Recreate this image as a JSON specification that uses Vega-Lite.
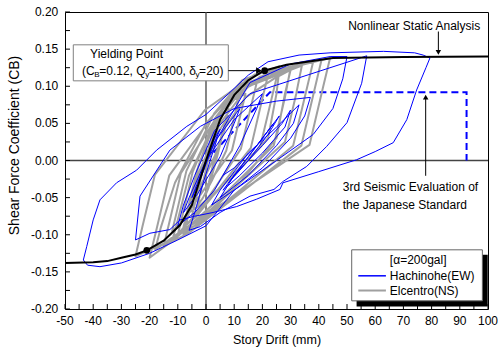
{
"$schema":"https://vega.github.io/schema/vega-lite/v6.json",
"width":423,"height":297,"autosize":"none",
"padding":{"left":65,"top":12,"right":10,"bottom":40},
"background":"white",
"data":{"values":[{}]},
"config":{
 "font":"Liberation Sans",
 "view":{"stroke":"#000","strokeWidth":1},
 "axis":{"grid":false,"domain":false,"ticks":false,"labels":false,"titleFont":"Liberation Sans","titleColor":"#000","titleFontWeight":"normal"},
 "text":{"font":"Liberation Sans","fontSize":12,"color":"#000"}
},
"datasets":{
"xt":[{"v":-50},{"v":-45},{"v":-40},{"v":-35},{"v":-30},{"v":-25},{"v":-20},{"v":-15},{"v":-10},{"v":-5},{"v":0},{"v":5},{"v":10},{"v":15},{"v":20},{"v":25},{"v":30},{"v":35},{"v":40},{"v":45},{"v":50},{"v":55},{"v":60},{"v":65},{"v":70},{"v":75},{"v":80},{"v":85},{"v":90},{"v":95},{"v":100}],
"xl":[{"v":-50,"t":"-50"},{"v":-40,"t":"-40"},{"v":-30,"t":"-30"},{"v":-20,"t":"-20"},{"v":-10,"t":"-10"},{"v":0,"t":"0"},{"v":10,"t":"10"},{"v":20,"t":"20"},{"v":30,"t":"30"},{"v":40,"t":"40"},{"v":50,"t":"50"},{"v":60,"t":"60"},{"v":70,"t":"70"},{"v":80,"t":"80"},{"v":90,"t":"90"},{"v":100,"t":"100"}],
"yt":[{"v":-0.2},{"v":-0.175},{"v":-0.15},{"v":-0.125},{"v":-0.1},{"v":-0.075},{"v":-0.05},{"v":-0.025},{"v":0},{"v":0.025},{"v":0.05},{"v":0.075},{"v":0.1},{"v":0.125},{"v":0.15},{"v":0.175},{"v":0.2}],
"yl":[{"v":-0.2,"t":"-0.20"},{"v":-0.15,"t":"-0.15"},{"v":-0.1,"t":"-0.10"},{"v":-0.05,"t":"-0.05"},{"v":0,"t":"0.00"},{"v":0.05,"t":"0.05"},{"v":0.1,"t":"0.10"},{"v":0.15,"t":"0.15"},{"v":0.2,"t":"0.20"}],
"loops":[
{"s":"E","i":1,"x":0,"y":0},{"s":"E","i":2,"x":2,"y":0.018},{"s":"E","i":3,"x":4,"y":0.035},{"s":"E","i":4,"x":3,"y":0.02},{"s":"E","i":5,"x":0,"y":-0.005},{"s":"E","i":6,"x":-3,"y":-0.03},{"s":"E","i":7,"x":-2,"y":-0.015},{"s":"E","i":8,"x":3,"y":0.03},{"s":"E","i":9,"x":8,"y":0.06},{"s":"E","i":10,"x":6.5,"y":0.04},
{"s":"E","i":11,"x":3,"y":0.005},{"s":"E","i":12,"x":-2,"y":-0.035},{"s":"E","i":13,"x":-6,"y":-0.06},{"s":"E","i":14,"x":-4.9,"y":-0.042},{"s":"E","i":15,"x":-2.8,"y":-0.009},{"s":"E","i":16,"x":2.2,"y":0.045},{"s":"E","i":17,"x":7.3,"y":0.0765},{"s":"E","i":18,"x":14,"y":0.09},{"s":"E","i":19,"x":12.3,"y":0.063},{"s":"E","i":20,"x":9.2,"y":0.0135},
{"s":"E","i":21,"x":-1.4,"y":-0.043},{"s":"E","i":22,"x":-8.2,"y":-0.081},{"s":"E","i":23,"x":-12,"y":-0.095},{"s":"E","i":24,"x":-10.2,"y":-0.0665},{"s":"E","i":25,"x":-6.95,"y":-0.014},{"s":"E","i":26,"x":2.9,"y":0.0635},{"s":"E","i":27,"x":12.8,"y":0.108},{"s":"E","i":28,"x":26,"y":0.127},{"s":"E","i":29,"x":23.6,"y":0.089},{"s":"E","i":30,"x":19.25,"y":0.019},
{"s":"E","i":31,"x":-0.4,"y":-0.059},{"s":"E","i":32,"x":-12.9,"y":-0.111},{"s":"E","i":33,"x":-20,"y":-0.131},{"s":"E","i":34,"x":-17.5,"y":-0.092},{"s":"E","i":35,"x":-13,"y":-0.02},{"s":"E","i":36,"x":4.1,"y":0.069},{"s":"E","i":37,"x":21.2,"y":0.117},{"s":"E","i":38,"x":44,"y":0.138},{"s":"E","i":39,"x":41.4,"y":0.097},{"s":"E","i":40,"x":36.7,"y":0.021},
{"s":"E","i":41,"x":5.85,"y":-0.058},{"s":"E","i":42,"x":-13.9,"y":-0.11},{"s":"E","i":43,"x":-25,"y":-0.129},{"s":"E","i":44,"x":-22.6,"y":-0.09},{"s":"E","i":45,"x":-18.1,"y":-0.019},{"s":"E","i":46,"x":-0.4,"y":0.068},{"s":"E","i":47,"x":17.4,"y":0.116},{"s":"E","i":48,"x":41,"y":0.136},{"s":"E","i":49,"x":38.45,"y":0.095},{"s":"E","i":50,"x":33.8,"y":0.02},
{"s":"E","i":51,"x":9.4,"y":-0.052},{"s":"E","i":52,"x":-6.2,"y":-0.098},{"s":"E","i":53,"x":-15,"y":-0.115},{"s":"E","i":54,"x":-12.8,"y":-0.08},{"s":"E","i":55,"x":-8.9,"y":-0.017},{"s":"E","i":56,"x":5.2,"y":0.0665},{"s":"E","i":57,"x":19.2,"y":0.113},{"s":"E","i":58,"x":38,"y":0.133},{"s":"E","i":59,"x":35.5,"y":0.093},{"s":"E","i":60,"x":30.9,"y":0.02},
{"s":"E","i":61,"x":10.45,"y":-0.045},{"s":"E","i":62,"x":-2.6,"y":-0.085},{"s":"E","i":63,"x":-10,"y":-0.1},{"s":"E","i":64,"x":-8.1,"y":-0.07},{"s":"E","i":65,"x":-4.7,"y":-0.015},{"s":"E","i":66,"x":3.3,"y":0.0575},{"s":"E","i":67,"x":11.3,"y":0.098},{"s":"E","i":68,"x":22,"y":0.115},{"s":"E","i":69,"x":19.8,"y":0.0805},{"s":"E","i":70,"x":15.9,"y":0.017},
{"s":"E","i":71,"x":3.95,"y":-0.0405},{"s":"E","i":72,"x":-3.7,"y":-0.0765},{"s":"E","i":73,"x":-8,"y":-0.09},{"s":"E","i":74,"x":-6.3,"y":-0.063},{"s":"E","i":75,"x":-3.2,"y":-0.0135},{"s":"E","i":76,"x":3.2,"y":0.0525},{"s":"E","i":77,"x":9.5,"y":0.089},{"s":"E","i":78,"x":18,"y":0.105},{"s":"E","i":79,"x":16,"y":0.0735},{"s":"E","i":80,"x":12.4,"y":0.016},
{"s":"E","i":81,"x":3.7,"y":-0.034},{"s":"E","i":82,"x":-1.9,"y":-0.064},{"s":"E","i":83,"x":-5,"y":-0.075},{"s":"E","i":84,"x":-3.6,"y":-0.0525},{"s":"E","i":85,"x":-1,"y":-0.011},{"s":"E","i":86,"x":2.9,"y":0.045},{"s":"E","i":87,"x":6.8,"y":0.0765},{"s":"E","i":88,"x":12,"y":0.09},{"s":"E","i":89,"x":10.3,"y":0.063},{"s":"E","i":90,"x":7.2,"y":0.0135},
{"s":"E","i":91,"x":2.1,"y":-0.027},{"s":"E","i":92,"x":-1.2,"y":-0.051},{"s":"E","i":93,"x":-3,"y":-0.06},{"s":"E","i":94,"x":-1.9,"y":-0.042},{"s":"E","i":95,"x":0.2,"y":-0.009},{"s":"E","i":96,"x":2.5,"y":0.035},{"s":"E","i":97,"x":4.9,"y":0.0595},{"s":"E","i":98,"x":8,"y":0.07},{"s":"E","i":99,"x":6.7,"y":0.049},{"s":"E","i":100,"x":4.3,"y":0.0105},
{"s":"E","i":101,"x":2.15,"y":-0.02},{"s":"E","i":102,"x":0.8,"y":-0.038},{"s":"E","i":103,"x":0,"y":-0.045},{"s":"E","i":104,"x":1,"y":-0.03},{"s":"E","i":105,"x":2.5,"y":-0.005},{"s":"E","i":106,"x":6,"y":0.04},{"s":"E","i":107,"x":14,"y":0.085},{"s":"E","i":108,"x":24,"y":0.11},{"s":"E","i":109,"x":30,"y":0.122},{"s":"E","i":110,"x":28,"y":0.09},
{"s":"E","i":111,"x":25,"y":0.03},{"s":"E","i":112,"x":12,"y":-0.03},{"s":"E","i":113,"x":0,"y":-0.075},{"s":"E","i":114,"x":-8,"y":-0.1},{"s":"E","i":115,"x":-6,"y":-0.07},{"s":"E","i":116,"x":-3,"y":-0.02},{"s":"E","i":117,"x":5,"y":0.05},{"s":"E","i":118,"x":15,"y":0.1},{"s":"E","i":119,"x":34,"y":0.128},{"s":"E","i":120,"x":32,"y":0.09},
{"s":"E","i":121,"x":28,"y":0.025},{"s":"E","i":122,"x":15,"y":-0.02},{"s":"E","i":123,"x":2,"y":-0.065},{"s":"E","i":124,"x":-12,"y":-0.108},{"s":"E","i":125,"x":-10,"y":-0.08},{"s":"E","i":126,"x":-6,"y":-0.02},{"s":"E","i":127,"x":3,"y":0.05},{"s":"E","i":128,"x":14,"y":0.1},{"s":"E","i":129,"x":30,"y":0.125},{"s":"E","i":130,"x":28,"y":0.085},
{"s":"E","i":131,"x":24,"y":0.02},{"s":"E","i":132,"x":8,"y":-0.04},{"s":"E","i":133,"x":-5,"y":-0.085},{"s":"E","i":134,"x":-18,"y":-0.12},{"s":"E","i":135,"x":-16,"y":-0.09},{"s":"E","i":136,"x":-11,"y":-0.03},{"s":"E","i":137,"x":0,"y":0.05},{"s":"E","i":138,"x":12,"y":0.1},{"s":"E","i":139,"x":26,"y":0.122},{"s":"E","i":140,"x":25,"y":0.09},
{"s":"E","i":141,"x":22,"y":0.03},{"s":"E","i":142,"x":10,"y":-0.02},{"s":"E","i":143,"x":-2,"y":-0.06},{"s":"E","i":144,"x":-6,"y":-0.07},
{"s":"H","i":1,"x":0,"y":0},{"s":"H","i":2,"x":3,"y":0.03},{"s":"H","i":3,"x":5,"y":0.042},{"s":"H","i":4,"x":2,"y":0.015},{"s":"H","i":5,"x":-2,"y":-0.025},{"s":"H","i":6,"x":-5,"y":-0.05},{"s":"H","i":7,"x":-3,"y":-0.03},{"s":"H","i":8,"x":3,"y":0.025},{"s":"H","i":9,"x":9,"y":0.055},{"s":"H","i":10,"x":12,"y":0.07},
{"s":"H","i":11,"x":10,"y":0.05},{"s":"H","i":12,"x":5,"y":0.005},{"s":"H","i":13,"x":-3,"y":-0.045},{"s":"H","i":14,"x":-8,"y":-0.07},{"s":"H","i":15,"x":-6,"y":-0.05},{"s":"H","i":16,"x":0,"y":0},{"s":"H","i":17,"x":10,"y":0.055},{"s":"H","i":18,"x":20,"y":0.09},{"s":"H","i":19,"x":18,"y":0.07},{"s":"H","i":20,"x":12,"y":0.02},
{"s":"H","i":21,"x":3,"y":-0.04},{"s":"H","i":22,"x":-4,"y":-0.07},{"s":"H","i":23,"x":-10,"y":-0.088},{"s":"H","i":24,"x":-8,"y":-0.06},{"s":"H","i":25,"x":-4,"y":-0.02},{"s":"H","i":26,"x":3,"y":0.04},{"s":"H","i":27,"x":15.6,"y":0.09},{"s":"H","i":28,"x":54.6,"y":0.138},{"s":"H","i":29,"x":57,"y":0.141},{"s":"H","i":30,"x":55.2,"y":0.104},
{"s":"H","i":31,"x":50,"y":0.051},{"s":"H","i":32,"x":42.8,"y":0.019},{"s":"H","i":33,"x":35.7,"y":-0.008},{"s":"H","i":34,"x":27.4,"y":-0.028},{"s":"H","i":35,"x":24.1,"y":-0.039},{"s":"H","i":36,"x":15.6,"y":-0.048},{"s":"H","i":37,"x":5,"y":-0.07},{"s":"H","i":38,"x":-2,"y":-0.089},{"s":"H","i":39,"x":-6,"y":-0.094},{"s":"H","i":40,"x":-4,"y":-0.07},
{"s":"H","i":41,"x":-1,"y":-0.03},{"s":"H","i":42,"x":4,"y":0.03},{"s":"H","i":43,"x":15.6,"y":0.105},{"s":"H","i":44,"x":30,"y":0.13},{"s":"H","i":45,"x":44,"y":0.14},{"s":"H","i":46,"x":50,"y":0.14},{"s":"H","i":47,"x":48.5,"y":0.11},{"s":"H","i":48,"x":45,"y":0.07},{"s":"H","i":49,"x":38,"y":0.035},{"s":"H","i":50,"x":25,"y":0},
{"s":"H","i":51,"x":10,"y":-0.04},{"s":"H","i":52,"x":0,"y":-0.088},{"s":"H","i":53,"x":-10,"y":-0.107},{"s":"H","i":54,"x":-20,"y":-0.125},{"s":"H","i":55,"x":-30,"y":-0.138},{"s":"H","i":56,"x":-37.6,"y":-0.143},{"s":"H","i":57,"x":-42,"y":-0.141},{"s":"H","i":58,"x":-43.5,"y":-0.134},{"s":"H","i":59,"x":-42.3,"y":-0.116},{"s":"H","i":60,"x":-40,"y":-0.08},
{"s":"H","i":61,"x":-37.6,"y":-0.053},{"s":"H","i":62,"x":-31.7,"y":-0.03},{"s":"H","i":63,"x":-24.6,"y":-0.013},{"s":"H","i":64,"x":-17.5,"y":0.014},{"s":"H","i":65,"x":-6.8,"y":0.046},{"s":"H","i":66,"x":0,"y":0.062},{"s":"H","i":67,"x":8,"y":0.09},{"s":"H","i":68,"x":15,"y":0.115},{"s":"H","i":69,"x":22,"y":0.133},{"s":"H","i":70,"x":33,"y":0.142},
{"s":"H","i":71,"x":44,"y":0.145},{"s":"H","i":72,"x":63,"y":0.147},{"s":"H","i":73,"x":74,"y":0.145},{"s":"H","i":74,"x":77,"y":0.142},{"s":"H","i":75,"x":79.4,"y":0.138},{"s":"H","i":76,"x":78,"y":0.125},{"s":"H","i":77,"x":74.7,"y":0.095},{"s":"H","i":78,"x":71.2,"y":0.055},{"s":"H","i":79,"x":66.4,"y":0.024},{"s":"H","i":80,"x":60,"y":0.012},
{"s":"H","i":81,"x":53.4,"y":0.001},{"s":"H","i":82,"x":40,"y":-0.015},{"s":"H","i":83,"x":27.3,"y":-0.03},{"s":"H","i":84,"x":26.2,"y":-0.039},{"s":"H","i":85,"x":18,"y":-0.052},{"s":"H","i":86,"x":10.9,"y":-0.062},{"s":"H","i":87,"x":2.5,"y":-0.07},{"s":"H","i":88,"x":-4,"y":-0.075},{"s":"H","i":89,"x":-9.2,"y":-0.08},{"s":"H","i":90,"x":-12.8,"y":-0.093},
{"s":"H","i":91,"x":-19.9,"y":-0.098},{"s":"H","i":92,"x":-25,"y":-0.107},{"s":"H","i":93,"x":-23.4,"y":-0.048},{"s":"H","i":94,"x":-12.8,"y":0.014},{"s":"H","i":95,"x":-2,"y":0.046},{"s":"H","i":96,"x":10,"y":0.07},{"s":"H","i":97,"x":25,"y":0.08},{"s":"H","i":98,"x":37,"y":0.085},{"s":"H","i":99,"x":35,"y":0.06},{"s":"H","i":100,"x":30,"y":0.03},
{"s":"H","i":101,"x":20,"y":-0.01},{"s":"H","i":102,"x":10,"y":-0.04},{"s":"H","i":103,"x":2,"y":-0.06},{"s":"H","i":104,"x":5,"y":-0.04},{"s":"H","i":105,"x":15,"y":0.01},{"s":"H","i":106,"x":25,"y":0.045},{"s":"H","i":107,"x":33,"y":0.075},{"s":"H","i":108,"x":31,"y":0.05},{"s":"H","i":109,"x":25,"y":0.02},{"s":"H","i":110,"x":15,"y":-0.02},
{"s":"H","i":111,"x":5,"y":-0.05},{"s":"H","i":112,"x":10,"y":-0.02},{"s":"H","i":113,"x":20,"y":0.02},{"s":"H","i":114,"x":27,"y":0.05},{"s":"H","i":115,"x":30,"y":0.068},{"s":"H","i":116,"x":28,"y":0.045},{"s":"H","i":117,"x":20,"y":0.01},{"s":"H","i":118,"x":12,"y":-0.02},{"s":"H","i":119,"x":6,"y":-0.04},{"s":"H","i":120,"x":12,"y":-0.01},
{"s":"H","i":121,"x":20,"y":0.03},{"s":"H","i":122,"x":26,"y":0.06},{"s":"H","i":123,"x":22,"y":0.035},{"s":"H","i":124,"x":15,"y":0},{"s":"H","i":125,"x":8,"y":-0.03},{"s":"H","i":126,"x":14,"y":0},{"s":"H","i":127,"x":20,"y":0.03},{"s":"H","i":128,"x":24,"y":0.05},{"s":"H","i":129,"x":18,"y":0.02},{"s":"H","i":130,"x":10,"y":-0.01},{"s":"H","i":131,"x":6,"y":-0.02}
],
"nsa":[
{"i":1,"x":-50,"y":-0.138},{"i":2,"x":-40,"y":-0.137},{"i":3,"x":-35,"y":-0.1355},{"i":4,"x":-30,"y":-0.131},{"i":5,"x":-25,"y":-0.1265},{"i":6,"x":-21,"y":-0.121},{"i":7,"x":-15,"y":-0.108},{"i":8,"x":-9.2,"y":-0.087},{"i":9,"x":-5,"y":-0.06},{"i":10,"x":0,"y":0},{"i":11,"x":5,"y":0.055},{"i":12,"x":10,"y":0.088},{"i":13,"x":15,"y":0.108},{"i":14,"x":20.5,"y":0.121},{"i":15,"x":28.6,"y":0.129},{"i":16,"x":45,"y":0.138},{"i":17,"x":70,"y":0.1395},{"i":18,"x":100,"y":0.14}
],
"seis":[
{"i":1,"x":0,"y":0},{"i":2,"x":22.7,"y":0.092},{"i":3,"x":92.4,"y":0.092},{"i":4,"x":92.4,"y":0}
],
"yield":[{"x":20.8,"y":0.121},{"x":-21,"y":-0.121}]
},
"layer":[
{"mark":{"type":"rule","color":"#444","strokeWidth":1.3},"encoding":{"x":{"datum":0,"type":"quantitative"}}},
{"mark":{"type":"rule","color":"#444","strokeWidth":1.3},"encoding":{"y":{"datum":0,"type":"quantitative"}}},
{"data":{"name":"seis"},"mark":{"type":"line","color":"#0000ff","strokeWidth":2,"strokeDash":[7,4]},
 "encoding":{"x":{"field":"x","type":"quantitative"},"y":{"field":"y","type":"quantitative"},"order":{"field":"i"}}},
{"data":{"name":"loops"},"transform":[{"filter":"datum.s === 'E'"}],"mark":{"type":"line","strokeWidth":2,"strokeJoin":"round"},
 "encoding":{
  "x":{"field":"x","type":"quantitative","scale":{"domain":[-50,100],"nice":false,"zero":false},
   "axis":{"labels":false,"ticks":false,"domain":false,"title":"Story Drift (mm)","titleFontSize":12.5,"titleY":34.3,"titleBaseline":"alphabetic"}},
  "y":{"field":"y","type":"quantitative","scale":{"domain":[-0.2,0.2],"nice":false,"zero":false},
   "axis":{"labels":false,"ticks":false,"domain":false,"title":"Shear Force Coefficient (CB)","titleFontSize":14,"titleAngle":270,"titleX":-46.7,"titleY":133,"titleBaseline":"alphabetic"}},
  "color":{"field":"s","type":"nominal","scale":{"domain":["H","E"],"range":["#0000ff","#a0a0a0"]},"legend":null},
  "order":{"field":"i"}}},
{"data":{"name":"loops"},"transform":[{"filter":"datum.s === 'H'"}],"mark":{"type":"line","strokeWidth":1,"strokeJoin":"round"},
 "encoding":{"x":{"field":"x","type":"quantitative"},"y":{"field":"y","type":"quantitative"},
  "color":{"field":"s","type":"nominal","legend":null},"order":{"field":"i"}}},
{"data":{"name":"nsa"},"mark":{"type":"line","color":"#000","strokeWidth":2},
 "encoding":{"x":{"field":"x","type":"quantitative"},"y":{"field":"y","type":"quantitative"},"order":{"field":"i"}}},
{"data":{"name":"yield"},"mark":{"type":"point","shape":"circle","filled":true,"color":"#000","opacity":1,"size":45},
 "encoding":{"x":{"field":"x","type":"quantitative"},"y":{"field":"y","type":"quantitative"}}},
{"mark":{"type":"rect","fill":"white","stroke":"#808080","strokeWidth":1},
 "encoding":{"x":{"datum":-47.06,"type":"quantitative"},"x2":{"datum":7.91},"y":{"datum":0.1558,"type":"quantitative"},"y2":{"datum":0.1073}}},
{"mark":{"type":"rule","color":"#000","strokeWidth":1},
 "encoding":{"x":{"datum":7.91,"type":"quantitative"},"x2":{"datum":18.5},"y":{"datum":0.121,"type":"quantitative"}}},
{"mark":{"type":"point","shape":"triangle-right","filled":true,"color":"#000","opacity":1,"size":45},
 "encoding":{"x":{"datum":18.8,"type":"quantitative"},"y":{"datum":0.121,"type":"quantitative"}}},
{"mark":{"type":"rule","color":"#000","strokeWidth":1},
 "encoding":{"x":{"datum":82.4,"type":"quantitative"},"y":{"datum":0.1737,"type":"quantitative"},"y2":{"datum":0.147}}},
{"mark":{"type":"point","shape":"triangle-down","filled":true,"color":"#000","opacity":1,"size":30},
 "encoding":{"x":{"datum":82.4,"type":"quantitative"},"y":{"datum":0.1455,"type":"quantitative"}}},
{"mark":{"type":"rule","color":"#000","strokeWidth":1},
 "encoding":{"x":{"datum":77.9,"type":"quantitative"},"y":{"datum":-0.0206,"type":"quantitative"},"y2":{"datum":0.085}}},
{"mark":{"type":"point","shape":"triangle-up","filled":true,"color":"#000","opacity":1,"size":30},
 "encoding":{"x":{"datum":77.9,"type":"quantitative"},"y":{"datum":0.0855,"type":"quantitative"}}},
{"mark":{"type":"text","align":"left","baseline":"middle","text":"Nonlinear Static Analysis"},
 "encoding":{"x":{"datum":50.4,"type":"quantitative"},"y":{"datum":0.1805,"type":"quantitative"}}},
{"mark":{"type":"text","align":"left","baseline":"middle","text":"3rd Seismic Evaluation of"},
 "encoding":{"x":{"datum":48.5,"type":"quantitative"},"y":{"datum":-0.0354,"type":"quantitative"}}},
{"mark":{"type":"text","align":"left","baseline":"middle","text":"the Japanese Standard"},
 "encoding":{"x":{"datum":48.5,"type":"quantitative"},"y":{"datum":-0.06,"type":"quantitative"}}},
{"mark":{"type":"text","align":"left","baseline":"middle","text":"Yielding Point"},
 "encoding":{"x":{"datum":-41.1,"type":"quantitative"},"y":{"datum":0.1428,"type":"quantitative"}}},
{"mark":{"type":"text","align":"left","baseline":"middle","text":"(C"},
 "encoding":{"x":{"datum":-44.0,"type":"quantitative"},"y":{"datum":0.1208,"type":"quantitative"}}},
{"mark":{"type":"text","align":"left","baseline":"middle","text":"B","fontSize":8,"dx":12.3,"dy":4},
 "encoding":{"x":{"datum":-44.0,"type":"quantitative"},"y":{"datum":0.1208,"type":"quantitative"}}},
{"mark":{"type":"text","align":"left","baseline":"middle","text":"=0.12, Q","dx":17.3},
 "encoding":{"x":{"datum":-44.0,"type":"quantitative"},"y":{"datum":0.1208,"type":"quantitative"}}},
{"mark":{"type":"text","align":"left","baseline":"middle","text":"y","fontSize":8,"dx":63.3,"dy":4},
 "encoding":{"x":{"datum":-44.0,"type":"quantitative"},"y":{"datum":0.1208,"type":"quantitative"}}},
{"mark":{"type":"text","align":"left","baseline":"middle","text":"=1400, δ","dx":67},
 "encoding":{"x":{"datum":-44.0,"type":"quantitative"},"y":{"datum":0.1208,"type":"quantitative"}}},
{"mark":{"type":"text","align":"left","baseline":"middle","text":"y","fontSize":8,"dx":113.5,"dy":4},
 "encoding":{"x":{"datum":-44.0,"type":"quantitative"},"y":{"datum":0.1208,"type":"quantitative"}}},
{"mark":{"type":"text","align":"left","baseline":"middle","text":"=20)","dx":117.2},
 "encoding":{"x":{"datum":-44.0,"type":"quantitative"},"y":{"datum":0.1208,"type":"quantitative"}}},
{"mark":{"type":"rect","fill":"#000"},
 "encoding":{"x":{"datum":53.4,"type":"quantitative"},"x2":{"datum":99.9},"y":{"datum":-0.127,"type":"quantitative"},"y2":{"datum":-0.1966}}},
{"mark":{"type":"rect","fill":"white","stroke":"#666","strokeWidth":1},
 "encoding":{"x":{"datum":51.67,"type":"quantitative"},"x2":{"datum":98.0},"y":{"datum":-0.1203,"type":"quantitative"},"y2":{"datum":-0.189}}},
{"mark":{"type":"rule","color":"#0000ff","strokeWidth":1.5},
 "encoding":{"x":{"datum":54.0,"type":"quantitative"},"x2":{"datum":63.8},"y":{"datum":-0.1553,"type":"quantitative"}}},
{"mark":{"type":"rule","color":"#a0a0a0","strokeWidth":2},
 "encoding":{"x":{"datum":54.0,"type":"quantitative"},"x2":{"datum":63.8},"y":{"datum":-0.1751,"type":"quantitative"}}},
{"mark":{"type":"text","align":"left","baseline":"middle","text":"[α=200gal]"},
 "encoding":{"x":{"datum":65.2,"type":"quantitative"},"y":{"datum":-0.1337,"type":"quantitative"}}},
{"mark":{"type":"text","align":"left","baseline":"middle","text":"Hachinohe(EW)"},
 "encoding":{"x":{"datum":65.2,"type":"quantitative"},"y":{"datum":-0.1553,"type":"quantitative"}}},
{"mark":{"type":"text","align":"left","baseline":"middle","text":"Elcentro(NS)"},
 "encoding":{"x":{"datum":65.2,"type":"quantitative"},"y":{"datum":-0.1752,"type":"quantitative"}}},
{"data":{"name":"xt"},"mark":{"type":"rule","color":"#000","strokeWidth":1},
 "encoding":{"x":{"field":"v","type":"quantitative"},"y":{"datum":-0.2,"type":"quantitative"},"y2":{"datum":-0.1933}}},
{"data":{"name":"yt"},"mark":{"type":"rule","color":"#000","strokeWidth":1},
 "encoding":{"y":{"field":"v","type":"quantitative"},"x":{"datum":-50,"type":"quantitative"},"x2":{"datum":-48.23}}},
{"data":{"name":"xl"},"mark":{"type":"text","align":"center","baseline":"top","dy":7},
 "encoding":{"x":{"field":"v","type":"quantitative"},"y":{"datum":-0.2,"type":"quantitative"},"text":{"field":"t"}}},
{"data":{"name":"yl"},"mark":{"type":"text","align":"right","baseline":"middle","dx":-6.7},
 "encoding":{"y":{"field":"v","type":"quantitative"},"x":{"datum":-50,"type":"quantitative"},"text":{"field":"t"}}}
]
}
